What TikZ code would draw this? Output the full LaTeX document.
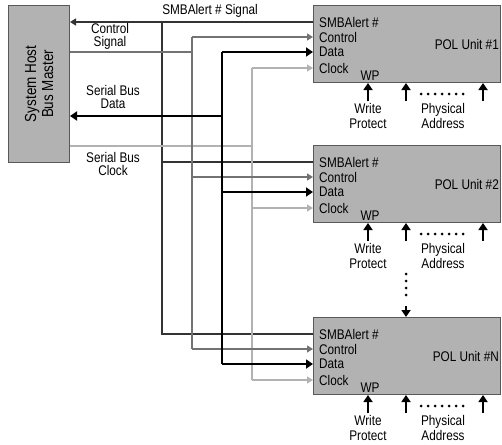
\documentclass[tikz,border=0pt]{standalone}
\usepackage{fontspec}
\setmainfont[FakeStretch=0.84]{Liberation Sans}
\usetikzlibrary{arrows.meta,calc}
\begin{document}
\begin{tikzpicture}[x=1pt,y=-1pt,
  box/.style={draw=black!65,line width=1pt,fill=black!30},
  lbl/.style={font=\fontsize{14}{13}\selectfont,inner sep=1pt},
  pinlbl/.style={lbl,anchor=west,xshift=5pt},
  smb/.style={draw=black!80,line width=1.3pt},
  ctl/.style={draw=black!55,line width=1.3pt},
  dat/.style={draw=black,line width=2.3pt},
  clk/.style={draw=black!30,line width=1.2pt},
  tipg/.style={-{Triangle[width=7pt,length=6pt]}},
  tipb/.style={-{Triangle[width=9pt,length=7pt]}},
  up/.style={draw=black,line width=1.8pt,-{Triangle[width=9pt,length=7pt]}},
  dots/.style={draw=black,line width=3pt,line cap=round,dash pattern=on 0pt off 7pt}]
\useasboundingbox (0,0) rectangle (502,444);

% host
\node[box,anchor=north west,minimum width=61,minimum height=157] (host) at (8,5) {};
\node[lbl,rotate=90,align=center,font=\fontsize{16}{17}\selectfont] (hosttxt) at (host.center) {System Host\\Bus Master};

% POL units
\foreach \n/\t in {1/5,2/145,N/317}{
  \node[box,anchor=north west,minimum width=187,minimum height=77] (pol\n) at (313,\t) {};
  \coordinate (s\n) at ($(pol\n.north west)+(0,17)$);
  \coordinate (c\n) at ($(pol\n.north west)+(0,32)$);
  \coordinate (d\n) at ($(pol\n.north west)+(0,47)$);
  \coordinate (k\n) at ($(pol\n.north west)+(0,63)$);
  \node[pinlbl] (ls\n) at (s\n) {SMBAlert \#};
  \node[pinlbl] (lc\n) at (c\n) {Control};
  \node[pinlbl] (ld\n) at (d\n) {Data};
  \node[pinlbl] (lk\n) at (k\n) {Clock};
  \node[lbl,anchor=east] (u\n) at ($(pol\n.north east)+(-1,39)$) {POL Unit \#\n};
  \node[lbl,anchor=south] (wp\n) at ($(pol\n.south west)+(57,-1)$) {WP};
  \coordinate (wa\n) at ($(pol\n.south west)+(55,18)$);
  \coordinate (pa\n) at ($(pol\n.south west)+(93,18)$);
  \coordinate (pb\n) at ($(pol\n.south west)+(170,18)$);
  \coordinate (da\n) at ($(pol\n.south west)+(108,11)$);
  \coordinate (db\n) at ($(pol\n.south west)+(156,11)$);
  \draw[up] (wa\n) -- (wa\n |- pol\n.south);
  \draw[up] (pa\n) -- (pa\n |- pol\n.south);
  \draw[up] (pb\n) -- (pb\n |- pol\n.south);
  \draw[dots] (da\n) -- (db\n);
  \node[lbl,align=center,anchor=north,font=\fontsize{14}{15}\selectfont] (wt\n) at ($(wa\n)+(0,1)$) {Write\\Protect};
  \node[lbl,align=center,anchor=north,font=\fontsize{14}{15}\selectfont] (pt\n) at ($(wa\n)+(75,1)$) {Physical\\Address};
}

% continuation dots between unit 2 and unit N
\coordinate (vd1) at (406,274);
\coordinate (vd2) at (406,302);
\coordinate (vd3) at (406,306);
\draw[dots] (vd1) -- (vd2);
\draw[up] (vd3) -- (vd3 |- polN.north);

% bus rail x positions
\coordinate (xs) at (162,0);
\coordinate (xc) at (192,0);
\coordinate (xd) at (222,0);
\coordinate (xk) at (252,0);
\coordinate (hc) at (0,52);
\coordinate (hd) at (0,116);
\coordinate (hk) at (0,146);

% SMBAlert
\draw[smb,tipg] (s1) -- (host.east |- s1);
\draw[smb] (xs |- s1) -- (xs |- sN) -- (sN);
\draw[smb] (xs |- s2) -- (s2);

% Clock
\draw[clk] (host.east |- hk) -- (xk |- hk);
\draw[clk] (xk |- k1) -- (xk |- kN);
\foreach \n in {1,2,N}{\draw[clk,tipg] (xk |- k\n) -- (k\n);}

% Control
\draw[ctl] (host.east |- hc) -- (xc |- hc);
\draw[ctl] (xc |- c1) -- (xc |- cN);
\foreach \n in {1,2,N}{\draw[ctl,tipg] (xc |- c\n) -- (c\n);}

% Data
\draw[dat,tipb] (xd |- hd) -- (host.east |- hd);
\draw[dat] (xd |- d1) -- (xd |- dN);
\foreach \n in {1,2,N}{\draw[dat,tipb] (xd |- d\n) -- (d\n);}

% labels
\node[lbl] (tsmb) at (210,11) {SMBAlert \# Signal};
\node[lbl,align=center] (tctl) at (110,36) {Control\\Signal};
\node[lbl,align=center] (tdat) at (113,97) {Serial Bus\\Data};
\node[lbl,align=center] (tclk) at (113,164) {Serial Bus\\Clock};
\end{tikzpicture}
\end{document}
